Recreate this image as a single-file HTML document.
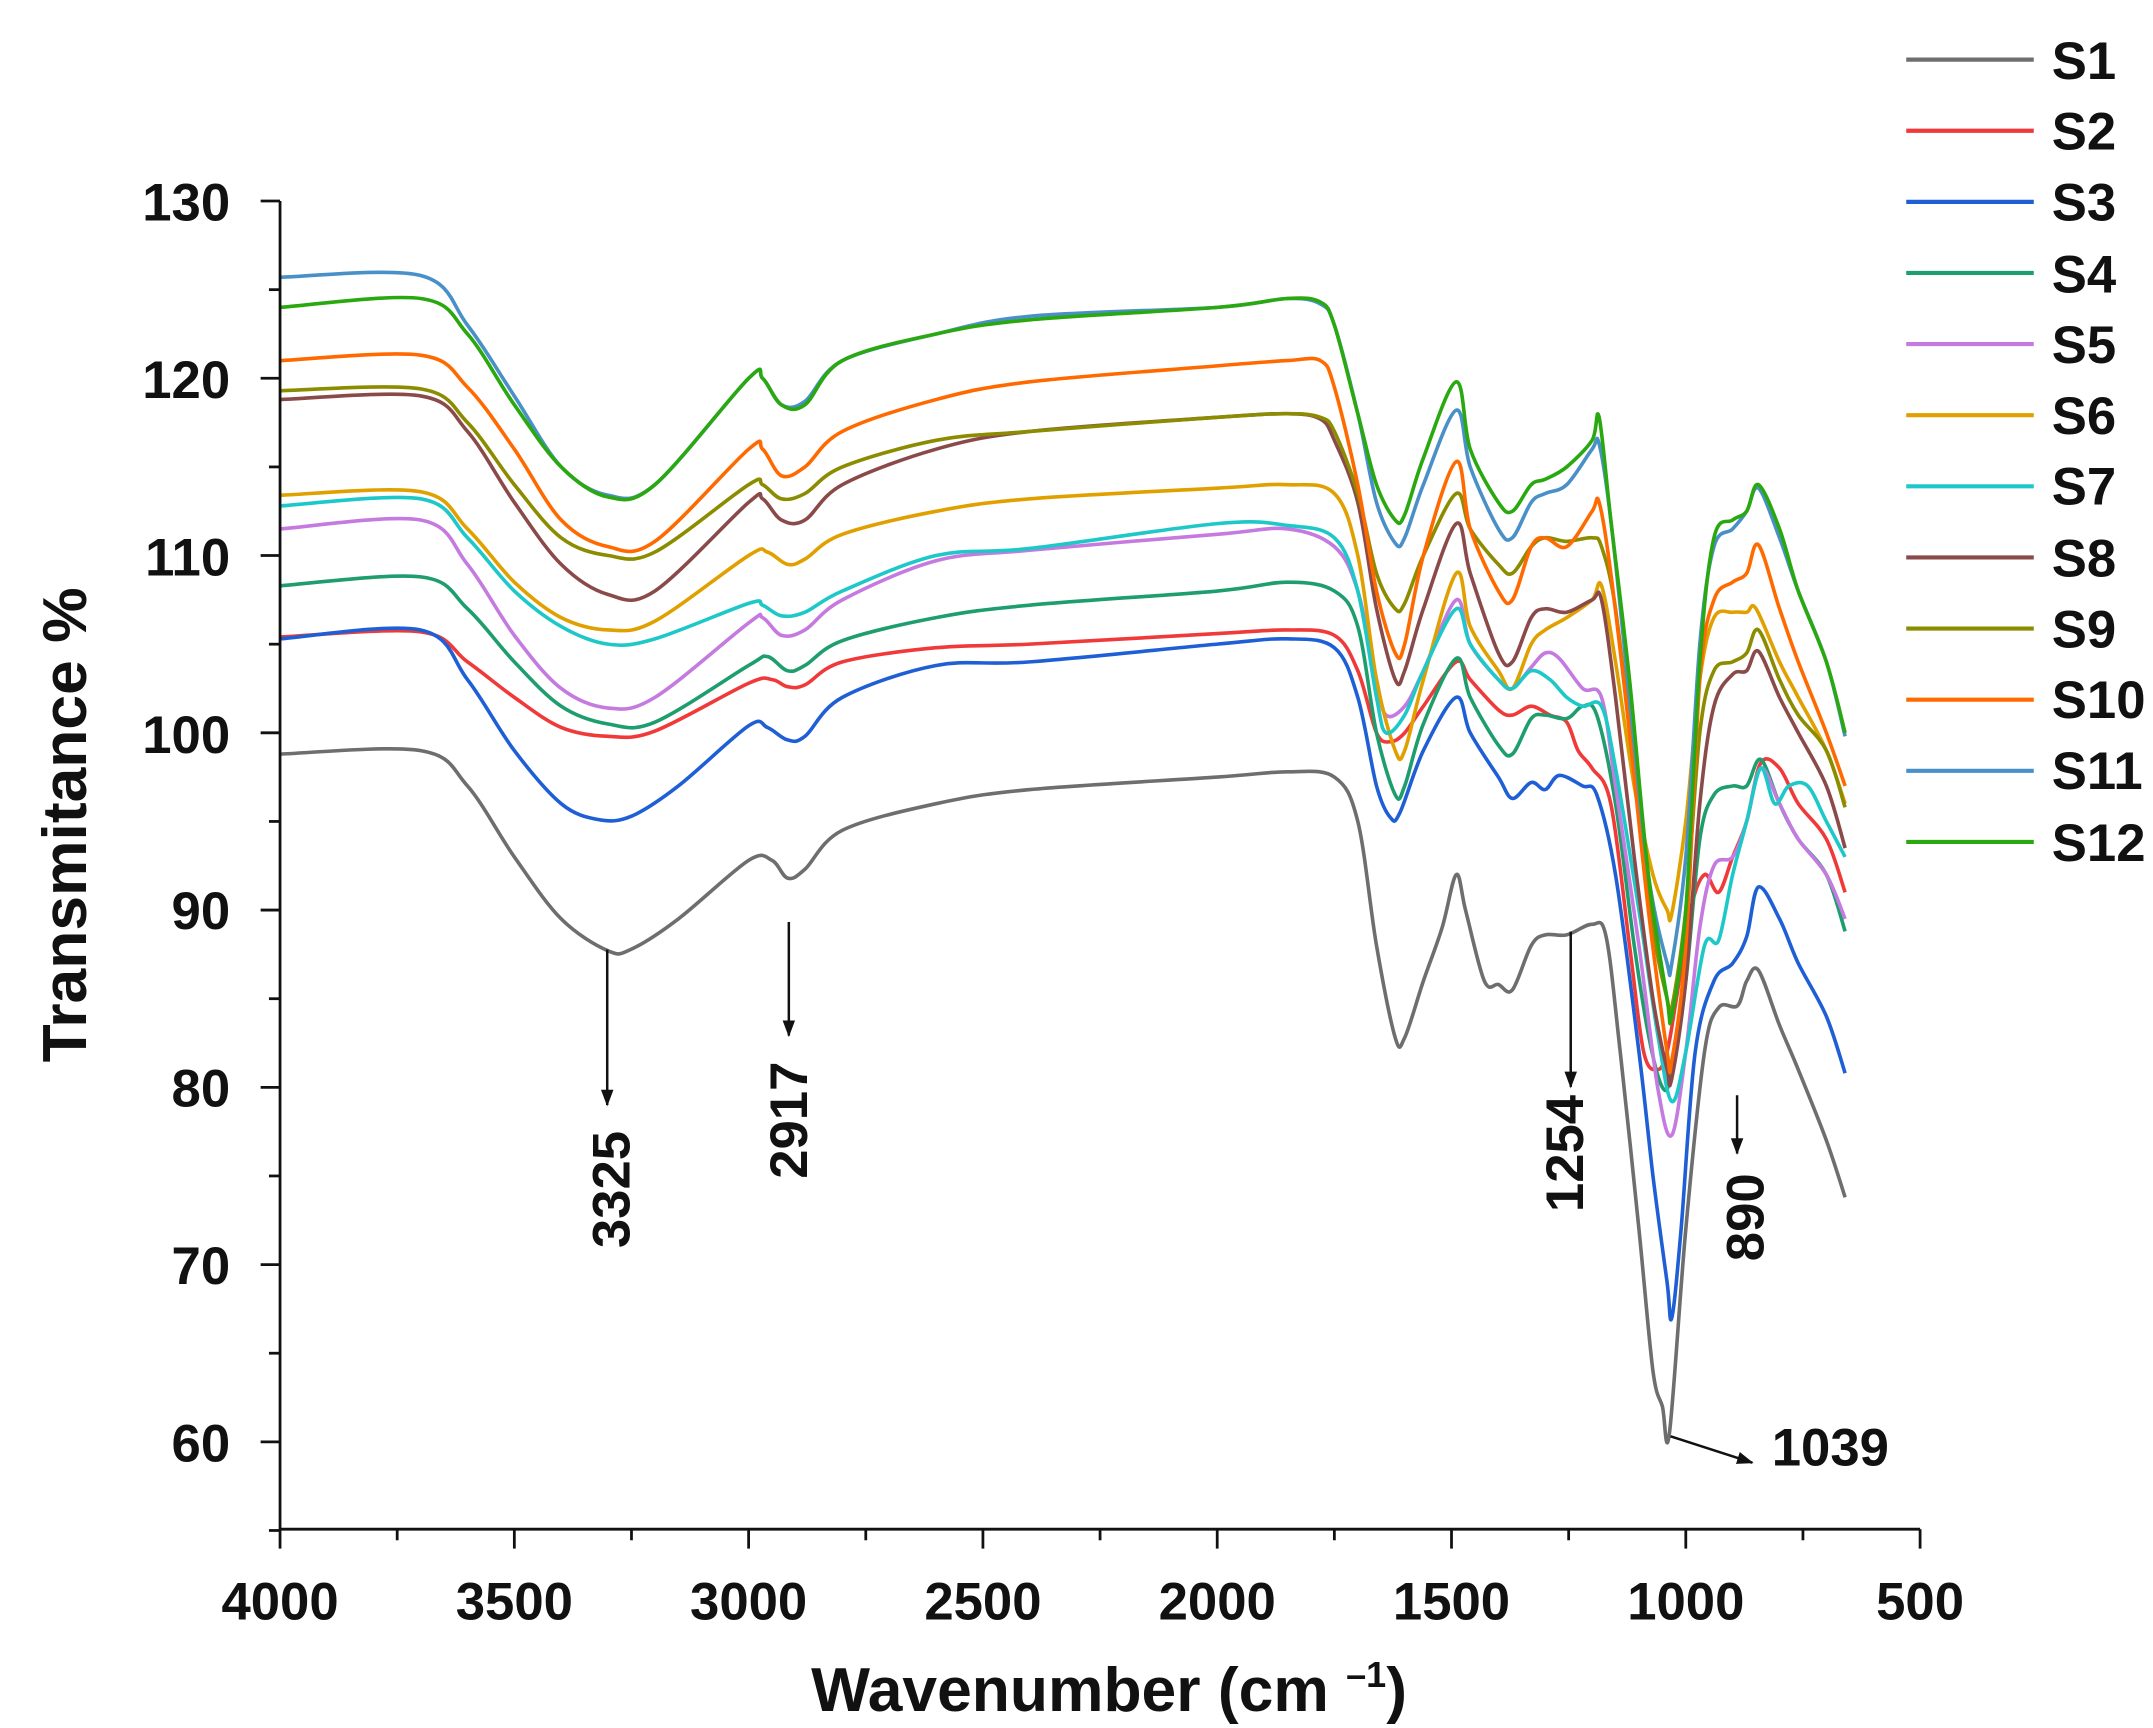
<!DOCTYPE html>
<html><head><meta charset="utf-8">
<style>
html,body{margin:0;padding:0;background:#fff;}
svg{display:block;}
text{font-family:"Liberation Sans",Arial,sans-serif;font-weight:bold;fill:#111;}
</style></head>
<body>
<svg id="s" width="2153" height="1728" viewBox="0 0 1553 1246.4" preserveAspectRatio="none" xmlns="http://www.w3.org/2000/svg">
<defs><marker id="ah" markerWidth="12" markerHeight="12" refX="11" refY="6" orient="auto" markerUnits="userSpaceOnUse"><path d="M0,1.5 L12,6 L0,10.5 Z" fill="#111"/></marker></defs>
<g id="series" fill="none" stroke-width="2.6" stroke-linejoin="round"></g>
<g stroke="#111" stroke-width="2" fill="none">
<line x1="202" y1="145" x2="202" y2="1103"/>
<line x1="202" y1="1103" x2="1385" y2="1103"/>
</g>
<g id="ticks" stroke="#111" stroke-width="2"></g>
<g font-size="38" text-anchor="end">
<text x="166" y="159">130</text><text x="166" y="287">120</text><text x="166" y="415">110</text>
<text x="166" y="543">100</text><text x="166" y="670">90</text><text x="166" y="798">80</text>
<text x="166" y="926">70</text><text x="166" y="1054">60</text>
</g>
<g font-size="38" text-anchor="middle">
<text x="202" y="1168">4000</text><text x="371" y="1168">3500</text><text x="540" y="1168">3000</text>
<text x="709" y="1168">2500</text><text x="878" y="1168">2000</text><text x="1047" y="1168">1500</text>
<text x="1216" y="1168">1000</text><text x="1385" y="1168">500</text>
</g>
<text x="800" y="1234" font-size="45" text-anchor="middle">Wavenumber (cm <tspan font-size="26" dy="-17">–1</tspan><tspan dy="17">)</tspan></text>
<text transform="translate(62,595) rotate(-90)" font-size="45" text-anchor="middle">Transmitance %</text>
<g stroke="#111" stroke-width="1.8" marker-end="url(#ah)">
<line x1="438" y1="685" x2="438" y2="797"/>
<line x1="569" y1="665" x2="569" y2="747"/>
<line x1="1133" y1="672" x2="1133" y2="784"/>
<line x1="1253" y1="790" x2="1253" y2="832"/>
<line x1="1205" y1="1036" x2="1264" y2="1055"/>
</g>
<g font-size="38" text-anchor="middle">
<text transform="translate(454,858) rotate(-90)">3325</text>
<text transform="translate(582,808) rotate(-90)">2917</text>
<text transform="translate(1142,832) rotate(-90)">1254</text>
<text transform="translate(1272,878) rotate(-90)">890</text>
</g>
<text x="1278" y="1057" font-size="38">1039</text>
<g id="leg" stroke-width="3"></g>
<g font-size="38">
<text x="1480" y="57">S1</text><text x="1480" y="108">S2</text><text x="1480" y="159">S3</text>
<text x="1480" y="211">S4</text><text x="1480" y="262">S5</text><text x="1480" y="313">S6</text>
<text x="1480" y="364">S7</text><text x="1480" y="416">S8</text><text x="1480" y="467">S9</text>
<text x="1480" y="518">S10</text><text x="1480" y="569">S11</text><text x="1480" y="621">S12</text>
</g>
</svg>
<script>
var NS="http://www.w3.org/2000/svg";
function X(w){return 202+(4000-w)*1183/3500;}
function Y(v){return 145+(130-v)*895/70;}
var D=[
["#6e6e6e","4000:98.8,3700:99,3600:97,3500:93,3400:89.5,3300:87.7,3250:87.8,3150:89.5,3000:92.8,2950:92.8,2917:91.8,2880:92.3,2800:94.5,2600:96,2400:96.8,2000:97.5,1850:97.8,1750:97.5,1700:95,1660:88,1620:82.8,1600:82.8,1560:86,1520:89,1490:92,1470:90,1430:86,1400:85.8,1370:85.5,1330:88,1300:88.6,1254:88.6,1200:89.2,1170:88.5,1140:82,1100:72,1070:64,1050:62,1035:60.5,1000:72,960:82,930:84.5,890:84.6,870:86,845:86.6,800:83.5,760:81,700:77,660:73.8"],
["#f03a3a","4000:105.4,3700:105.7,3600:104,3500:102,3400:100.3,3300:99.8,3200:100.1,3000:102.8,2950:103,2917:102.6,2880:102.7,2800:104,2600:104.8,2400:105,2000:105.6,1850:105.8,1750:105.5,1700:103.5,1660:100,1630:99.5,1600:100,1560:101.5,1490:104,1460:103,1400:101.3,1370:101,1330:101.5,1290:101,1254:100.6,1230:99,1200:98,1160:96,1120:88,1090:82,1060:81,1040:82,1020:85,990:90,960:92,930:91,900:93,870:95,840:98.3,800:98,760:96,700:94,660:91"],
["#1f5fd6","4000:105.3,3700:105.8,3600:103,3500:99,3400:96,3320:95.1,3250:95.3,3150:97,3000:100.4,2960:100.3,2917:99.6,2880:99.8,2800:102,2600:103.8,2400:104,2000:105,1850:105.3,1750:104.8,1700:102,1660:97,1630:95.2,1610:95.5,1560:99,1490:102,1460:100,1400:97.5,1370:96.3,1330:97.2,1300:96.8,1270:97.6,1220:97,1190:96.5,1150:92,1100:82,1070:75,1040:69,1030:67,1010:72,980:82,940:86,900:87,870:88.5,845:91.3,800:89.5,760:87,700:84,660:80.8"],
["#1e9e6e","4000:108.3,3700:108.8,3600:107,3500:104,3400:101.5,3300:100.5,3200:100.6,3000:103.8,2960:104.3,2917:103.5,2880:103.8,2800:105.2,2600:106.5,2400:107.2,2000:108,1850:108.5,1750:108,1700:106,1660:100,1620:96.5,1600:97,1560:100.5,1490:104.2,1460:102,1400:99.3,1370:98.8,1330:100.8,1300:101,1254:100.8,1220:101.5,1190:101,1150:96,1110:88,1080:83,1050:80,1030:80.8,1000:86,970:94,940:96.5,900:97,870:97,840:98.5,800:96,760:94,700:92,660:88.8"],
["#c57ae0","4000:111.5,3700:112,3600:109.5,3500:105.5,3400:102.5,3300:101.4,3200:102,3000:106.2,2970:106.5,2930:105.5,2880:105.8,2800:107.5,2600:109.7,2400:110.3,2000:111.2,1850:111.5,1750:110.5,1700:108,1660:103,1640:101,1600:101.5,1560:103.5,1490:107.5,1460:105,1400:103,1370:102.5,1330:103.7,1300:104.5,1270:104.2,1220:102.5,1180:102,1150:97,1100:88,1060:80,1030:77.3,1000:82,970:89,940:92.5,900:93,870:95,840:98,800:96,760:94,700:92,660:89.5"],
["#e0a000","4000:113.4,3700:113.6,3600:111.5,3500:108.5,3400:106.5,3300:105.8,3200:106.3,3000:110,2960:110.2,2917:109.5,2880:109.8,2800:111.2,2600:112.5,2400:113.2,2000:113.8,1850:114,1750:113.5,1700:110,1660:103,1620:99,1600:99,1560:103,1490:109,1460:106,1400:103.5,1370:102.5,1330:105,1300:105.8,1254:106.5,1200:107.5,1180:108.3,1150:104,1110:97,1070:92,1040:90,1030:89.8,1000:95,970:103,940:106.5,900:106.8,870:106.8,850:107,800:104,760:102,700:99,660:96"],
["#1ec8c8","4000:112.8,3700:113.2,3600:111,3500:108,3400:106,3300:105,3200:105.3,3000:107.3,2970:107.2,2930:106.6,2880:106.8,2800:108,2600:110,2400:110.4,2000:111.8,1850:111.7,1750:111,1700:108,1660:102,1640:100,1600:101,1560:103.5,1490:107,1460:105,1400:103,1370:102.5,1330:103.5,1290:103,1254:102,1220:101.5,1180:101.5,1150:98,1100:90,1060:83,1030:79.2,1000:82,960:88,930:88.3,900:92,870:95,840:98,810:96,780:97,740:97,700:95,660:93"],
["#8b4a4a","4000:118.8,3700:119,3600:117,3500:113,3400:109.5,3300:107.8,3200:108,3000:113,2970:113.2,2930:112,2880:112,2800:114,2600:116,2400:117,2000:117.8,1850:118,1780:117.7,1750:116.5,1700:113,1660:107,1620:103,1600:103.5,1560:107,1490:111.8,1460:109,1400:104.5,1370:104,1330:106.5,1300:107,1254:106.8,1200:107.5,1180:107.5,1150:102,1110:93,1070:85,1040:81,1030:80.5,1000:86,970:96,940:101.5,900:103.3,870:103.5,845:104.6,800:102,760:100,700:97,660:93.5"],
["#8c8c00","4000:119.3,3700:119.4,3600:117.5,3500:114,3400:111,3300:110,3200:110.2,3000:114,2970:114,2930:113.2,2880:113.5,2800:115,2600:116.5,2400:117,2000:117.8,1850:118,1780:117.8,1750:117,1700:113.5,1660:109,1620:107,1600:107.3,1560:110,1490:113.5,1460:111.5,1400:109.5,1370:109,1330:110.5,1300:111,1254:110.8,1200:111,1180:110.5,1150:107,1110:98,1070:89,1040:85,1030:84.5,1000:90,970:100,940:103.5,900:104,870:104.5,845:105.8,800:103,760:101,700:99,660:95.8"],
["#ff6a00","4000:121,3700:121.3,3600:119.5,3500:116,3400:112,3300:110.5,3200:110.8,3000:116,2970:116,2930:114.5,2880:115,2800:117,2600:118.8,2400:119.8,2000:120.7,1850:121,1780:121,1750:119.5,1700:114,1660:108,1620:104.5,1600:105,1560:110,1490:115.3,1460:111.5,1400:108,1370:107.5,1330:110.5,1300:111,1254:110.5,1200:112.5,1185:113,1160:109,1120:100,1080:90,1040:82,1030:81.5,1000:88,970:103,940:107.5,900:108.5,870:109,845:110.6,800:107,760:104,700:100,660:97"],
["#4a90c8","4000:125.7,3700:125.8,3600:123,3500:119,3400:115,3300:113.4,3200:114,3000:120,2970:120,2930:118.5,2880:118.7,2800:121,2600:122.5,2400:123.5,2000:124,1850:124.5,1780:124.2,1750:123,1700:118,1660:113,1620:110.7,1600:111,1560:114,1490:118.2,1460:115,1400:111.5,1370:111,1330:113,1300:113.5,1254:114,1200:116,1185:116.3,1160:112,1120:102,1080:92,1040:87,1030:87,1000:93,970:105,940:110.5,900:111.5,870:112.5,845:113.8,800:111,760:108,700:104,660:99.8"],
["#2aa810","4000:124,3700:124.5,3600:122.5,3500:118.5,3400:115,3300:113.3,3200:114,3000:120,2970:120,2930:118.5,2880:118.5,2800:121,2600:122.5,2400:123.3,2000:124,1850:124.5,1780:124.3,1750:123,1700:118,1660:114,1620:112,1600:112.3,1560:115.5,1490:119.8,1460:116,1400:113,1370:112.5,1330:114,1300:114.3,1254:115,1200:116.5,1185:117.8,1160:112,1120:103,1080:92,1040:85,1030:84,1000:90,970:104,940:111,900:112,870:112.5,845:114,800:111.5,760:108,700:104,660:100"]
];
var g=document.getElementById("series"),lg=document.getElementById("leg");
function f(n){return n.toFixed(1);}
D.forEach(function(s,i){
 var P=s[1].split(",").map(function(p){var a=p.split(":");return [X(+a[0]),Y(+a[1])];});
 var d="M"+f(P[0][0])+","+f(P[0][1]);
 for(var k=0;k<P.length-1;k++){
  var p0=P[k-1]||P[k],p1=P[k],p2=P[k+1],p3=P[k+2]||P[k+1];
  var c1x=p1[0]+(p2[0]-p0[0])/6,c1y=p1[1]+(p2[1]-p0[1])/6;
  var c2x=p2[0]-(p3[0]-p1[0])/6,c2y=p2[1]-(p3[1]-p1[1])/6;
  d+=" C"+f(c1x)+","+f(c1y)+" "+f(c2x)+","+f(c2y)+" "+f(p2[0])+","+f(p2[1]);
 }
 var p=document.createElementNS(NS,"path");p.setAttribute("d",d);p.setAttribute("stroke",s[0]);g.appendChild(p);
 var l=document.createElementNS(NS,"line");var y=43+51.3*i;
 l.setAttribute("x1",1375);l.setAttribute("x2",1467);l.setAttribute("y1",y);l.setAttribute("y2",y);l.setAttribute("stroke",s[0]);lg.appendChild(l);
});
var t=document.getElementById("ticks");
function ln(a,b,c,d){var l=document.createElementNS(NS,"line");l.setAttribute("x1",a);l.setAttribute("y1",b);l.setAttribute("x2",c);l.setAttribute("y2",d);t.appendChild(l);}
for(var v=55;v<=130;v+=5){var y=Y(v);ln(v%10==0?188:194,y,202,y);}
for(var w=500;w<=4000;w+=250){var x=X(w);ln(x,1103,x,w%500==0?1117:1111);}
</script>
</body></html>
